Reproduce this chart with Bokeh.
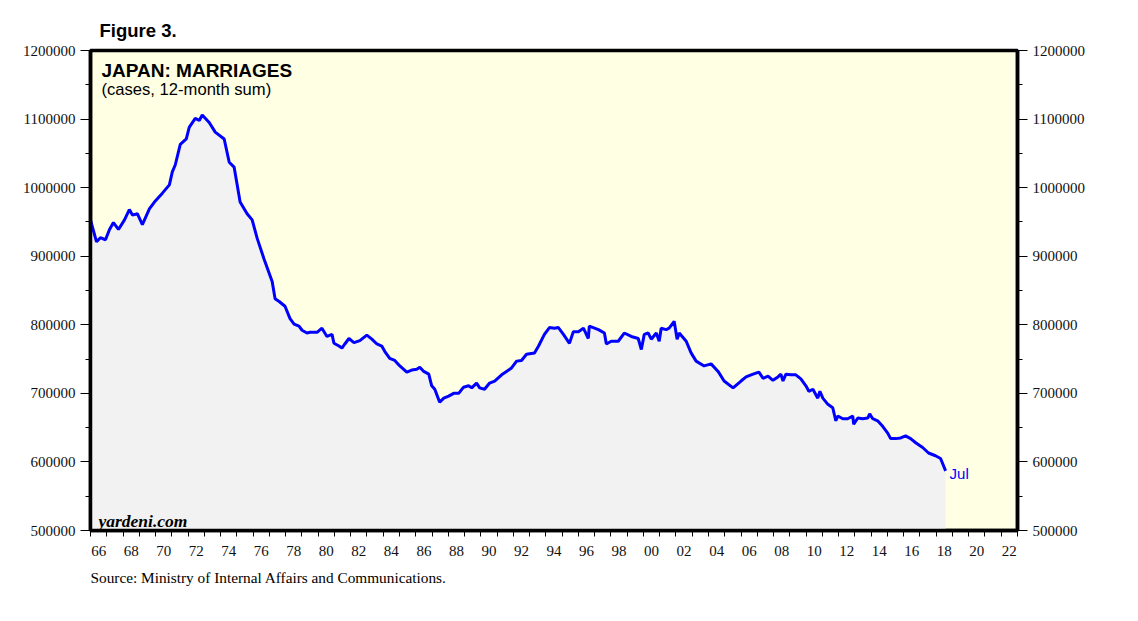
from bokeh.plotting import figure
from bokeh.models import (Range1d, LinearAxis, FixedTicker, BasicTickFormatter,
                          CustomJSTickFormatter, Label, ColumnDataSource, Title)
from bokeh.embed import file_html
from bokeh.resources import INLINE

# ---- data (12-month sum of marriages, thousands of cases) ----
years = [
    1966.00, 1966.37, 1966.61, 1966.92, 1967.17, 1967.41, 1967.72, 1968.09, 1968.39, 1968.58,
    1968.88, 1969.19, 1969.62, 1969.93, 1970.42, 1970.85, 1971.03, 1971.21, 1971.52, 1971.89,
    1972.07, 1972.44, 1972.69, 1972.87, 1973.30, 1973.67, 1974.22, 1974.53, 1974.83, 1975.20,
    1975.63, 1975.94, 1976.25, 1976.67, 1977.17, 1977.35, 1977.60, 1977.96, 1978.27, 1978.52,
    1978.82, 1979.01, 1979.31, 1979.50, 1979.93, 1980.23, 1980.54, 1980.85, 1980.97, 1981.28,
    1981.46, 1981.64, 1981.89, 1982.20, 1982.56, 1982.99, 1983.30, 1983.61, 1983.91, 1984.10,
    1984.40, 1984.71, 1985.02, 1985.45, 1985.75, 1986.06, 1986.25, 1986.49, 1986.80, 1986.98,
    1987.17, 1987.47, 1987.72, 1988.02, 1988.33, 1988.64, 1988.94, 1989.25, 1989.44, 1989.74,
    1989.93, 1990.23, 1990.54, 1990.85, 1991.28, 1991.58, 1991.89, 1992.20, 1992.50, 1992.81,
    1993.30, 1993.55, 1993.91, 1994.22, 1994.53, 1994.77, 1995.08, 1995.45, 1995.69, 1996.00,
    1996.31, 1996.61, 1996.67, 1997.23, 1997.60, 1997.72, 1998.02, 1998.45, 1998.82, 1999.25,
    1999.68, 1999.87, 2000.05, 2000.29, 2000.48, 2000.79, 2000.97, 2001.09, 2001.40, 2001.58,
    2001.89, 2002.07, 2002.20, 2002.63, 2002.93, 2003.24, 2003.73, 2004.16, 2004.59, 2004.96,
    2005.51, 2006.00, 2006.31, 2006.74, 2007.10, 2007.35, 2007.66, 2007.96, 2008.27, 2008.45,
    2008.58, 2008.76, 2009.07, 2009.37, 2009.68, 2009.99, 2010.17, 2010.42, 2010.72, 2010.85,
    2011.03, 2011.34, 2011.64, 2011.83, 2011.95, 2012.26, 2012.56, 2012.87, 2012.93, 2013.18,
    2013.48, 2013.79, 2013.91, 2014.10, 2014.40, 2014.71, 2015.02, 2015.20, 2015.51, 2015.82,
    2016.12, 2016.43, 2016.74, 2017.17, 2017.53, 2017.96, 2018.27, 2018.58,
]
marriages_k = [
    953, 921, 927, 924, 939, 949, 939, 953, 968, 960,
    962, 946, 969, 979, 992, 1004, 1023, 1033, 1063, 1071,
    1088, 1101, 1098, 1106, 1095, 1081, 1071, 1037, 1030, 979,
    962, 953, 926, 896, 863, 838, 834, 827, 809, 801,
    798, 792, 788, 789, 789, 795, 783, 786, 773, 769,
    766, 772, 780, 774, 777, 785, 779, 772, 769, 761,
    751, 748, 740, 731, 734, 735, 738, 732, 728, 711,
    706, 687, 693, 696, 700, 700, 709, 711, 708, 715,
    708, 706, 715, 718, 727, 732, 737, 747, 748, 757,
    759, 769, 786, 796, 795, 796, 786, 773, 790, 790,
    795, 780, 798, 793, 788, 772, 776, 776, 788, 783,
    780, 764, 786, 788, 779, 788, 776, 795, 793, 795,
    805, 779, 788, 776, 759, 747, 740, 743, 732, 718,
    708, 718, 724, 728, 731, 722, 725, 719, 724, 728,
    718, 728, 727, 727, 721, 711, 703, 706, 693, 703,
    693, 684, 679, 660, 667, 663, 663, 667, 655, 664,
    663, 664, 670, 663, 660, 652, 642, 634, 634, 635,
    638, 634, 628, 621, 613, 609, 605, 587,
]
assert len(years) == len(marriages_k)
marriages = [v * 1000 for v in marriages_k]

y_major = [500000, 600000, 700000, 800000, 900000, 1000000, 1100000, 1200000]
y_minor = [550000, 650000, 750000, 850000, 950000, 1050000, 1150000]
x_label_pos = [y + 0.5 for y in range(1966, 2023, 2)]
x_year_ticks = list(range(1966, 2024))

title_text = "JAPAN: MARRIAGES"
subtitle_text = "(cases, 12-month sum)"
figure_text = "Figure 3."
source_text = "Source: Ministry of Internal Affairs and Communications."
brand_text = "yardeni.com"
last_label = "Jul"

SERIF = "Liberation Serif"
SANS = "Liberation Sans"

p = figure(width=1128, height=613, output_backend="svg", toolbar_location=None,
           x_range=Range1d(1966, 2023), y_range=Range1d(500000, 1200000),
           min_border_left=90, min_border_right=111, min_border_top=50, min_border_bottom=83)
p.background_fill_color = "#FFFFE4"
p.border_fill_color = "white"
p.outline_line_color = "black"
p.outline_line_width = 3.5
p.grid.visible = False

p.title.text = figure_text
p.title.text_font = SANS
p.title.text_font_style = "bold"
p.title.text_font_size = "18.5px"
p.title.text_color = "black"
p.title.align = "left"
p.title.offset = 9
p.title.standoff = 20

src = ColumnDataSource(dict(x=years, y=marriages))
p.varea(x="x", y1=500000, y2="y", source=src, fill_color="#F2F2F2")
p.line(x="x", y="y", source=src, line_color="#0000FF", line_width=3)

yticker = FixedTicker(ticks=y_major, minor_ticks=y_minor)
yfmt = BasicTickFormatter(use_scientific=False)

def style_y(ax):
    ax.ticker = yticker
    ax.formatter = yfmt
    ax.axis_line_color = "black"
    ax.axis_line_width = 3.5
    ax.major_tick_out = 10
    ax.major_tick_in = 0
    ax.minor_tick_out = 5
    ax.minor_tick_in = 0
    ax.major_tick_line_color = "black"
    ax.minor_tick_line_color = "black"
    ax.major_label_text_font = SERIF
    ax.major_label_text_font_size = "15px"
    ax.major_label_text_color = "#111111"
    ax.major_label_standoff = 5

style_y(p.yaxis[0])
right = LinearAxis()
style_y(right)
p.add_layout(right, "right")

xa = p.xaxis[0]
xa.ticker = FixedTicker(ticks=x_label_pos, minor_ticks=x_year_ticks)
xa.formatter = CustomJSTickFormatter(code="""
    const v = Math.floor(tick) % 100;
    return (v < 10 ? '0' : '') + v;
""")
xa.axis_line_color = "black"
xa.axis_line_width = 3.5
xa.major_tick_out = 0
xa.major_tick_in = 0
xa.minor_tick_out = 6
xa.minor_tick_in = 0
xa.minor_tick_line_color = "black"
xa.major_label_text_font = SERIF
xa.major_label_text_font_size = "15px"
xa.major_label_text_color = "#111111"
xa.major_label_standoff = 9

src_title = Title(text=source_text, align="left", offset=0, standoff=17,
                  text_font=SERIF, text_font_style="normal", text_font_size="15.3px",
                  text_color="black")
p.add_layout(src_title, "below")

p.add_layout(Label(x=1966, y=1200000, x_offset=11, y_offset=-20, text=title_text,
                   text_font=SANS, text_font_style="bold", text_font_size="19px",
                   text_baseline="alphabetic", text_color="black"))
p.add_layout(Label(x=1966, y=1200000, x_offset=11, y_offset=-39, text=subtitle_text,
                   text_font=SANS, text_font_size="16.6px",
                   text_baseline="alphabetic", text_color="black"))
p.add_layout(Label(x=1966, y=500000, x_offset=8, y_offset=10, text=brand_text,
                   text_font=SERIF, text_font_style="bold italic", text_font_size="17.5px",
                   text_baseline="alphabetic", text_color="black"))
p.add_layout(Label(x=years[-1], y=marriages[-1], x_offset=4, y_offset=-3, text=last_label,
                   text_font=SANS, text_font_size="15px",
                   text_baseline="alphabetic", text_color="#0000FF"))

open("out.html", "w").write(file_html(p, INLINE))
